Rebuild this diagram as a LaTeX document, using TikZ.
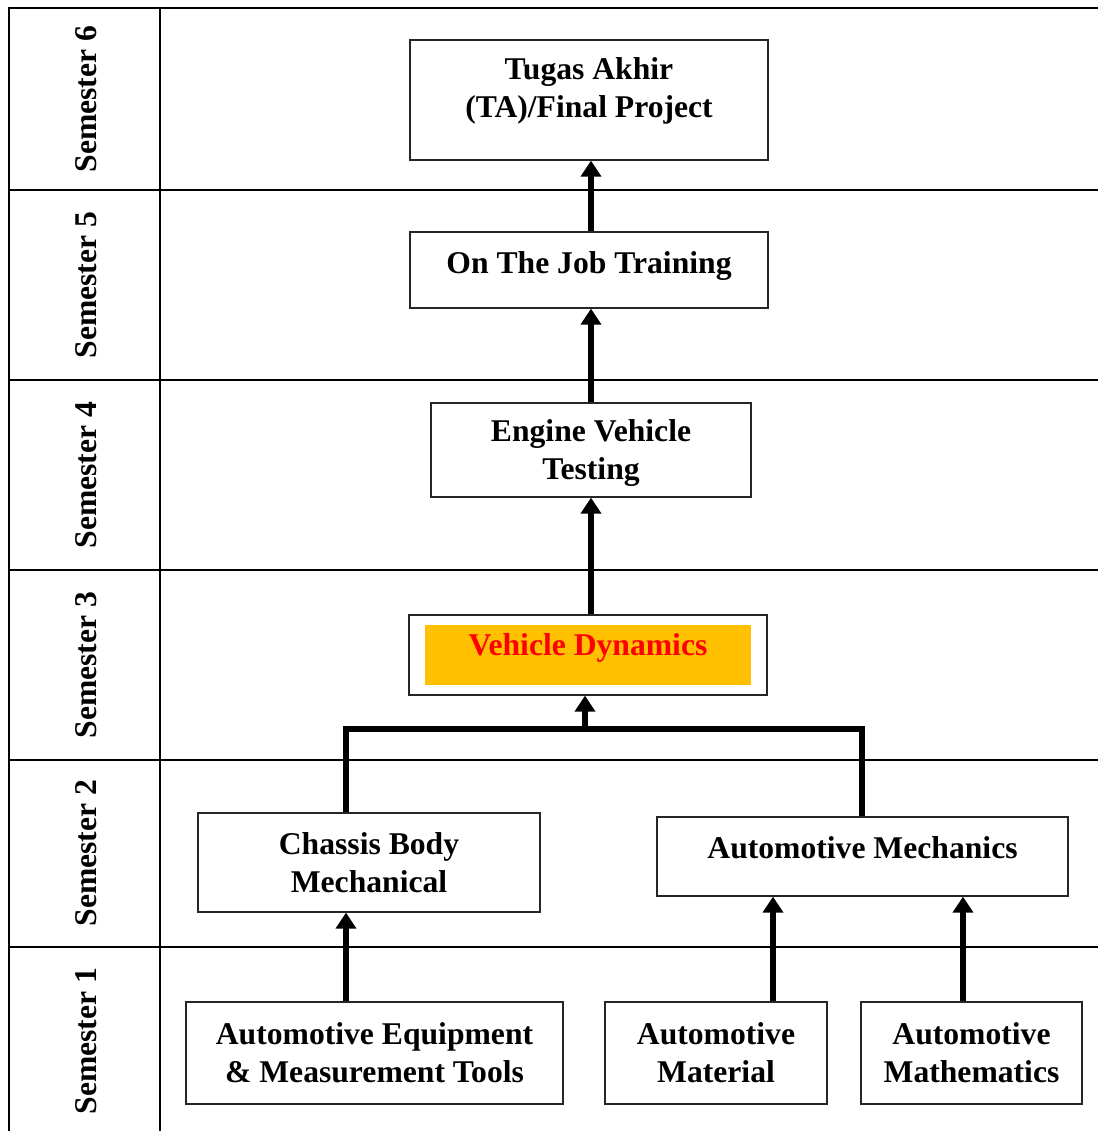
\documentclass[tikz,border=0pt]{standalone}
\usepackage{fontspec}
\setmainfont{Liberation Serif}
\usetikzlibrary{arrows.meta}
\definecolor{vdorange}{HTML}{FFC000}
\definecolor{vdred}{HTML}{FF0000}
\tikzset{
  course/.style   = {rectangle, draw=black!85, line width=0.9pt, fill=white, align=center,
                     inner sep=0pt, font=\fontsize{22.5}{27}\selectfont\bfseries},
  hilite/.style   = {rectangle, fill=vdorange, inner sep=0pt,
                     font=\fontsize{22.5}{27}\selectfont\bfseries\color{vdred}},
  semlabel/.style = {rotate=90, inner sep=0pt, font=\fontsize{22.5}{27}\selectfont\bfseries},
  gridline/.style = {line width=2.1pt},
  joinline/.style = {line width=4.3pt},
  uparrow/.style  = {-{Triangle[length=0.4cm,width=0.5cm]}, line width=4.3pt},
}

\begin{document}
\begin{tikzpicture}[x=0.025cm, y=-0.025cm]
\useasboundingbox (0,0) rectangle (1098,1131);
% semester grid
\draw[gridline] (1098,8) -- (9,8) -- (9,1131);
\draw[gridline] (160,8) -- (160,1131);
\foreach \yy in {190,380,570,760,947}
  \draw[gridline] (9,\yy) -- (1098,\yy);
\node[semlabel] (s6) at (86,99)   {Semester 6};
\node[semlabel] (s5) at (86,285)  {Semester 5};
\node[semlabel] (s4) at (86,475)  {Semester 4};
\node[semlabel] (s3) at (86,665)  {Semester 3};
\node[semlabel] (s2) at (86,853)  {Semester 2};
\node[semlabel] (s1) at (86,1041) {Semester 1};
% courses
\node[course, minimum width=8.95cm, minimum height=3.0cm, text depth=18pt] (ta) at (589,100) {Tugas Akhir\\(TA)/Final Project};
\node[course, minimum width=8.95cm, minimum height=1.9cm, text depth=10.5pt] (ojt) at (589,270) {On The Job Training};
\node[course, minimum width=8.0cm, minimum height=2.35cm, text depth=0pt] (evt) at (591,450) {Engine Vehicle\\Testing};
\node[course, minimum width=8.95cm, minimum height=2.0cm] (vdbox) at (588,655) {};
\node[hilite, minimum width=8.15cm, minimum height=1.5cm, text depth=15pt] (vd) at (588,655) {Vehicle Dynamics};
\node[course, minimum width=8.55cm, minimum height=2.475cm] (cbm) at (369,862.5) {Chassis Body\\Mechanical};
\node[course, minimum width=10.275cm, minimum height=1.975cm, text depth=13pt] (amc) at (862.5,856.5) {Automotive Mechanics};
\node[course, minimum width=9.425cm, minimum height=2.55cm] (aemt) at (374.5,1053) {Automotive Equipment\\\& Measurement Tools};
\node[course, minimum width=5.55cm, minimum height=2.55cm] (amat) at (716,1053) {Automotive\\Material};
\node[course, minimum width=5.525cm, minimum height=2.55cm] (amath) at (971.5,1053) {Automotive\\Mathematics};
% connectors
\coordinate (col) at (591,0);
\coordinate (jl) at (346,729);
\coordinate (jm) at (585,729);
\coordinate (jr) at (862,729);
\coordinate (xmat) at (773,0);
\coordinate (xmath) at (963,0);
\draw[uparrow] (ojt.north -| col) -- (ta.south -| col);
\draw[uparrow] (evt.north -| col) -- (ojt.south -| col);
\draw[uparrow] (vdbox.north -| col) -- (evt.south -| col);
\draw[joinline] (cbm.north -| jl) -- (jl) -- (jr) -- (amc.north -| jr);
\draw[uparrow] ([yshift=2.1pt]jm) -- (vdbox.south -| jm);
\draw[uparrow] (aemt.north -| jl) -- (cbm.south -| jl);
\draw[uparrow] (amat.north -| xmat) -- (amc.south -| xmat);
\draw[uparrow] (amath.north -| xmath) -- (amc.south -| xmath);
\end{tikzpicture}
\end{document}
